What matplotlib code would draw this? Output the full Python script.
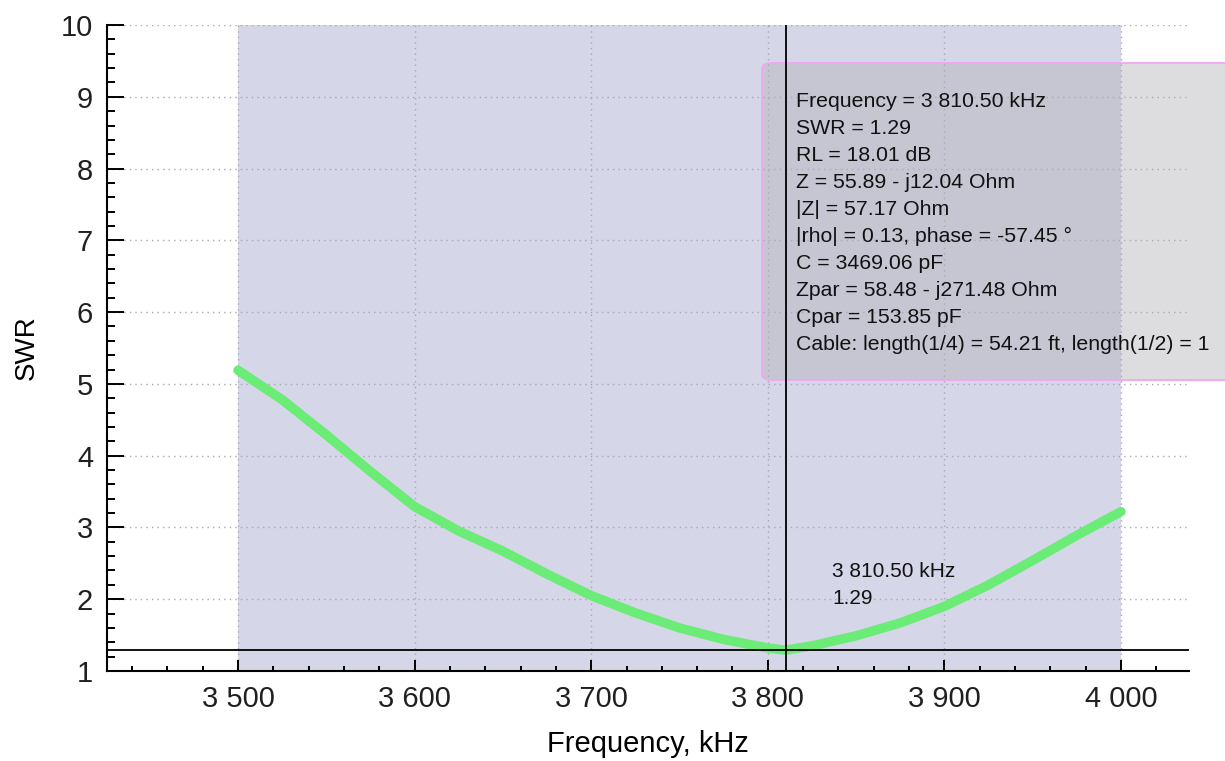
import matplotlib
matplotlib.use("Agg")
from matplotlib import pyplot as plt
from matplotlib.patches import FancyBboxPatch
from matplotlib.ticker import MultipleLocator, FuncFormatter

plt.rcParams['font.family'] = ['Liberation Sans', 'DejaVu Sans']

# SWR sweep (kHz, SWR)
freq = [3500, 3525, 3550, 3575, 3600, 3625, 3650, 3675, 3700, 3725, 3750,
        3775, 3800, 3810, 3825, 3850, 3875, 3900, 3925, 3950, 3975, 4000]
swr = [5.19, 4.78, 4.29, 3.78, 3.29, 2.95, 2.67, 2.35, 2.05, 1.81, 1.60,
       1.44, 1.32, 1.29, 1.35, 1.49, 1.67, 1.90, 2.20, 2.54, 2.89, 3.22]

band = (3500, 4000)
marker_f = 3810.50
marker_swr = 1.29
info_lines = [
    "Frequency = 3 810.50 kHz",
    "SWR = 1.29",
    "RL = 18.01 dB",
    "Z = 55.89 - j12.04 Ohm",
    "|Z| = 57.17 Ohm",
    "|rho| = 0.13, phase = -57.45 \u00b0",
    "C = 3469.06 pF",
    "Zpar = 58.48 - j271.48 Ohm",
    "Cpar = 153.85 pF",
    "Cable: length(1/4) = 54.21 ft, length(1/2) = 1",  # rest is off-screen in the window
]

fig = plt.figure(figsize=(12.25, 7.61), dpi=100)
ax = fig.add_axes([0.0873, 0.1183, 0.9706 - 0.0873, 0.9671 - 0.1183])

ax.axvspan(*band, color='#d5d6e8', zorder=0, lw=0)
ax.grid(True, which='major', ls=(0, (1, 3)), color='#a8a8b0', lw=1.0, zorder=1)
ax.plot(freq, swr, color='#6aec76', lw=6.8, solid_capstyle='round',
        solid_joinstyle='round', zorder=3)

# marker cross
ax.axhline(marker_swr, color='black', lw=1.3, zorder=5)
ax.axvline(marker_f, color='black', lw=1.3, zorder=5)
ax.annotate(f"{marker_f:,.2f} kHz".replace(",", " ") + f"\n{marker_swr:.2f}",
            xy=(marker_f, marker_swr), xytext=(46, 88), textcoords='offset pixels',
            ha='left', va='top', fontsize=15, linespacing=1.53, color='#111111', zorder=6)

ax.set_xlim(3425.8, 4038.5)
ax.set_ylim(1, 10)
ax.xaxis.set_major_locator(MultipleLocator(100))
ax.xaxis.set_minor_locator(MultipleLocator(20))
ax.yaxis.set_major_locator(MultipleLocator(1))
ax.yaxis.set_minor_locator(MultipleLocator(0.2))
ax.xaxis.set_major_formatter(FuncFormatter(lambda v, p: f"{int(v):,}".replace(",", " ")))

for s in ['top', 'right']:
    ax.spines[s].set_visible(False)
for s in ['left', 'bottom']:
    ax.spines[s].set_linewidth(1.5)
ax.tick_params(axis='both', which='both', direction='in', width=1.4, labelsize=21,
               labelcolor='#202020')
ax.tick_params(axis='x', which='major', length=8, pad=10)
ax.tick_params(axis='x', which='minor', length=3.5)
ax.tick_params(axis='y', which='major', length=12, pad=10)
ax.tick_params(axis='y', which='minor', length=5.8)

ax.set_xlabel("Frequency, kHz", fontsize=21, labelpad=12)
ax.set_ylabel("SWR", fontsize=20, labelpad=15)

# tooltip box, runs off the right edge of the window
box = FancyBboxPatch((762 / 1225, 1 - 380 / 761), 500 / 1225, 317 / 761,
                     boxstyle="round,pad=0,rounding_size=0.008",
                     transform=fig.transFigure, clip_on=False,
                     facecolor=(0.69, 0.69, 0.70, 0.42), edgecolor='#f2a6f2', lw=1.3, zorder=4)
ax.add_patch(box)
ax.text(796 / 1225, 1 - 92 / 761, "\n".join(info_lines), transform=fig.transFigure,
        ha='left', va='top', fontsize=15.3, linespacing=1.53, color='#111111',
        clip_on=False, zorder=6)

fig.savefig("out.png", dpi=100)
